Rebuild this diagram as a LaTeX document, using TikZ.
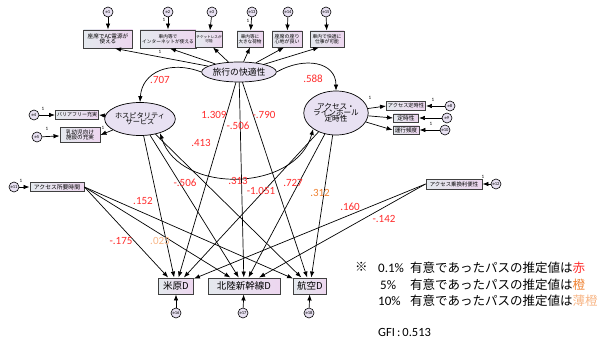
\documentclass[tikz,border=0pt]{standalone}
\usepackage{fontspec}
\setmainfont{Noto Sans CJK JP}
\newfontfamily\jp{Noto Sans CJK JP}
\newfontfamily\num{Carlito}
\usetikzlibrary{shapes.geometric,arrows.meta,calc}
\definecolor{boxL}{HTML}{E4E9EE}
\definecolor{boxR}{HTML}{EDD6EF}
\definecolor{latfill}{HTML}{E8E1F2}
\definecolor{cred}{HTML}{FF2B2B}
\definecolor{corange}{HTML}{EE8030}
\definecolor{clight}{HTML}{F7B585}
\newcommand\myfs[1]{\fontsize{#1pt}{#1pt}\selectfont}
\tikzset{
  ind/.style={draw=black!75,line width=0.9pt,left color=boxL,right color=boxR,
    inner sep=0.5pt,align=center,font=\jp\myfs{5.5}},
  lat/.style={ellipse,draw=black,line width=0.7pt,fill=latfill,inner sep=0pt,
    align=center},
  err/.style={circle,draw=black,line width=0.6pt,fill=latfill,minimum size=10pt,
    inner sep=0pt,font=\num\myfs{4.5}},
  arr/.style={-{Latex[length=6pt,width=4.5pt]},line width=0.7pt},
  darr/.style={{Latex[length=6pt,width=4.5pt]}-{Latex[length=6pt,width=4.5pt]},line width=0.7pt},
  coef/.style={text=cred,font=\num\myfs{11},inner sep=0pt},
  one/.style={font=\num\myfs{5},inner sep=0pt},
  leg/.style={font=\jp\myfs{12.5},inner sep=0pt,anchor=west},
  legn/.style={font=\num\myfs{13},inner sep=0pt,anchor=west}
}
\begin{document}
\begin{tikzpicture}[x=1pt,y=-1pt]
\useasboundingbox (0,0) rectangle (606,345);
% latent variables
\node[lat,minimum width=62pt,minimum height=20pt,font=\jp\myfs{8.8}] (c) at (239,72) {旅行の快適性};
\node[lat,minimum width=57pt,minimum height=33pt,font=\jp\myfs{7.2}] (hs) at (140,119) {ホスピタリティ\\[-1pt]サービス};
\node[lat,minimum width=58pt,minimum height=44pt,font=\jp\myfs{7.6}] (ac) at (336,113) {アクセス・\\[-1.5pt]ラインホール\\[-1.5pt]定時性};
% top indicators
\node[ind,minimum width=49pt,minimum height=18pt,font=\jp\myfs{5.6}] (t1) at (108,39) {座席でAC電源が\\使える};
\node[ind,minimum width=56pt,minimum height=18pt,font=\jp\myfs{4.7}] (t2) at (168,39) {車内等で\\インターネットが使える};
\node[ind,minimum width=26pt,minimum height=16pt,font=\jp\myfs{3.6}] (t3) at (209,39) {チケットレスが\\可能};
\node[ind,minimum width=26pt,minimum height=16pt,font=\jp\myfs{4.6}] (t4) at (250,39) {車内等に\\大きな荷物};
\node[ind,minimum width=30pt,minimum height=16pt,font=\jp\myfs{5}] (t5) at (287,39) {座席の座り\\心地が良い};
\node[ind,minimum width=34pt,minimum height=16pt,font=\jp\myfs{4.8}] (t6) at (327,39) {車内で快適に\\仕事が可能};
\node[err] (e1) at (108,12) {e1};
\node[err] (e2) at (168,12) {e2};
\node[err] (e3) at (212,12) {e3};
\node[err] (e13) at (252,12) {e13};
\node[err] (e14) at (288,12) {e14};
\node[err] (e15) at (326,12) {e15};
% hospitality indicators
\node[ind,minimum width=43pt,minimum height=9pt,font=\jp\myfs{5}] (h1) at (77,115) {バリアフリー充実};
\node[ind,minimum width=40pt,minimum height=15pt,font=\jp\myfs{5.6}] (h2) at (80,135) {乳幼児向け\\[-1pt]施設の充実};
\node[err] (e4) at (34,115) {e4};
\node[err] (e5) at (37,137) {e5};
% access indicators
\node[ind,minimum width=39pt,minimum height=9pt,font=\jp\myfs{5.2}] (a1) at (406,106) {アクセス定時性};
\node[ind,minimum width=25pt,minimum height=8pt,font=\jp\myfs{5.8}] (a2) at (406,118) {定時性};
\node[ind,minimum width=26pt,minimum height=8pt,font=\jp\myfs{5.6}] (a3) at (406,130) {運行頻度};
\node[err] (e8) at (450,106) {e8};
\node[err] (e9) at (447,118) {e9};
\node[err] (e10) at (445,130) {e10};
% exogenous observed
\node[ind,minimum width=54pt,minimum height=9pt,font=\jp\myfs{5.8}] (at) at (57,187) {アクセス所要時間};
\node[ind,minimum width=56pt,minimum height=10pt,font=\jp\myfs{5.4}] (tr) at (454,184) {アクセス乗換利便性};
\node[err] (e11) at (14,187) {e11};
\node[err] (e12) at (496,184) {e12};
% outcomes
\node[ind,minimum width=35pt,minimum height=16pt,font=\jp\myfs{9.5}] (m) at (176,286) {米原D};
\node[ind,minimum width=72pt,minimum height=16pt,font=\jp\myfs{9.5}] (hk) at (244,286) {北陸新幹線D};
\node[ind,minimum width=33pt,minimum height=16pt,font=\jp\myfs{9.5}] (air) at (310,286) {航空D};
\node[err] (e16) at (176,313) {e16};
\node[err] (e17) at (243,313) {e17};
\node[err] (e18) at (309,313) {e18};
% measurement arrows
\draw[arr] (c) -- ($(t1.south)+(7,0)$);
\draw[arr] (c) -- ($(t2.south)+(2,0)$);
\draw[arr] (c) -- ($(t3.south)+(4,0)$);
\draw[arr] (c) -- (t4.south);
\draw[arr] (c) -- ($(t5.south)+(-3,0)$);
\draw[arr] (c) -- ($(t6.south)+(-8,0)$);
\foreach \e/\t in {e1/t1,e2/t2,e3/t3,e13/t4,e14/t5,e15/t6} \draw[arr] (\e) -- (\t);
\draw[arr] (hs) -- (h1.east);
\draw[arr] (hs) -- (h2.east);
\draw[arr] (e4) -- (h1);
\draw[arr] (e5) -- (h2);
\draw[arr] (ac) -- (a1.west);
\draw[arr] (ac) -- (a2.west);
\draw[arr] (ac) -- (a3.west);
\draw[arr] (e8) -- (a1);
\draw[arr] (e9) -- (a2);
\draw[arr] (e10) -- (a3);
\draw[arr] (e11) -- (at);
\draw[arr] (e12) -- (tr);
\draw[arr] (e16) -- (m);
\draw[arr] (e17) -- (hk);
\draw[arr] (e18) -- (air);
% latent paths
\draw[arr] (c.west) .. controls (170,60) and (142,72) .. (hs.north);
\draw[arr] (c.east) .. controls (305,56) and (336,62) .. (ac.north);
\draw[darr] (hs.-35) .. controls (180,195) and (296,192) .. (ac.-145);
% structural paths
\foreach \t in {m,hk,air} {
  \draw[arr] (c) -- (\t);
  \draw[arr] (hs) -- (\t);
  \draw[arr] (ac) -- (\t);
  \draw[arr] (at.east) -- (\t);
}
\draw[arr] (tr.west) -- (m);
\draw[arr] (tr.west) -- (hk);
% coefficients
\node[coef] (k1) at (160,80) {.707};
\node[coef] (k2) at (313,79) {.588};
\node[coef] (k3) at (214,115) {1.309};
\node[coef] (k4) at (238,126) {-.506};
\node[coef] (k5) at (264,115) {-.790};
\node[coef] (k6) at (201,143) {.413};
\node[coef] (k7) at (185,183) {-.506};
\node[coef] (k8) at (238,181) {.313};
\node[coef] (k9) at (261,191) {-1.051};
\node[coef] (k10) at (293,183) {.727};
\node[coef,text=corange] (k11) at (320,193) {.312};
\node[coef] (k12) at (143,201) {.152};
\node[coef] (k13) at (121,241) {-.175};
\node[coef,text=clight] (k14) at (160,241) {.023};
\node[coef] (k15) at (350,207) {.160};
\node[coef] (k16) at (384,219) {-.142};
% fixed loadings
\node[one] (o1) at (160,52) {1};
\node[one] (o2) at (164,20) {1};
\node[one] (o3) at (248,21) {1};
\node[one] (o4) at (43,109) {1};
\node[one] (o5) at (47,129) {1};
\node[one] (o6) at (103,128) {1};
\node[one] (o7) at (370,98) {1};
\node[one] (o8) at (433,100) {1};
\node[one] (o9) at (431,124) {1};
\node[one] (o10) at (21,181) {1};
\node[one] (o11) at (483,177) {1};
% legend
\node[leg] (l0) at (355,267) {※};
\node[legn] (l1n) at (378,268) {0.1\%};
\node[leg] (l1) at (410,268) {有意であったパスの推定値は\textcolor{cred}{赤}};
\node[legn] (l2n) at (380,285) {5\%};
\node[leg] (l2) at (410,285) {有意であったパスの推定値は\textcolor{corange}{橙}};
\node[legn] (l3n) at (378,301) {10\%};
\node[leg] (l3) at (410,301) {有意であったパスの推定値は\textcolor{clight}{薄橙}};
\node[legn,font=\num\myfs{12.5}] (gfi) at (378,332) {GFI\,:\,0.513};
\end{tikzpicture}
\end{document}
